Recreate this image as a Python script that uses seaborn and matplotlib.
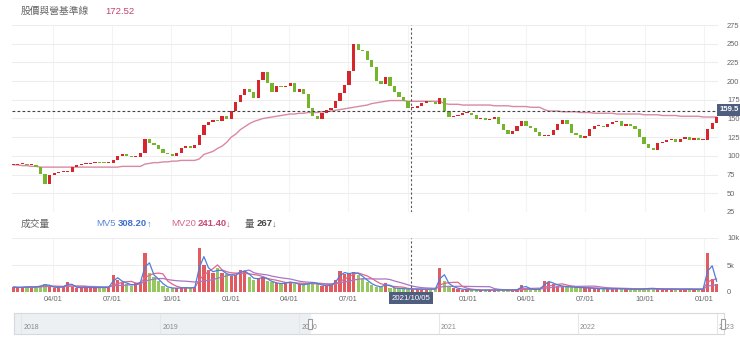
import numpy as np
import pandas as pd
import matplotlib
matplotlib.use("Agg")
import matplotlib.pyplot as plt
import matplotlib.dates as mdates
from matplotlib.patches import Rectangle
import seaborn as sns

# ---------------- data (weekly) ----------------
week_start = "2020-01-31"
first_open = 88
close = [
    88, 89, 89, 88, 88, 85, 76, 63, 74, 77,
    78, 78, 79, 85, 88, 89, 89, 90, 92, 91,
    90, 91, 95, 100, 103, 100, 98, 98, 104, 122,
    117, 114, 109, 104, 102, 100, 104, 110, 113, 111,
    114, 128, 141, 145, 148, 146, 153, 150, 160, 172,
    181, 190, 185, 178, 201, 212, 198, 186, 194, 192,
    194, 198, 186, 190, 183, 164, 154, 150, 157, 162,
    164, 173, 184, 195, 214, 250, 242, 240, 228, 219,
    200, 196, 206, 194, 186, 179, 173, 164, 164, 167,
    171, 173, 172, 169, 178, 160, 152, 153, 155, 157,
    158, 155, 150, 151, 148, 150, 152, 143, 134, 129,
    133, 140, 146, 140, 137, 132, 126, 127, 128, 135,
    142, 148, 143, 131, 128, 124, 127, 136, 140, 140,
    139, 142, 145, 147, 140, 143, 140, 136, 125, 116,
    110, 108, 117, 118, 121, 123, 119, 122, 125, 121,
    124, 121, 121, 136, 144, 152,
]
baseline = [
    88, 88, 87, 87, 86, 86, 85, 85, 85, 85,
    85, 85, 85, 85, 85, 85, 85, 85, 85, 85,
    85, 85, 85, 85, 86, 86, 86, 86, 86, 89,
    90, 91, 91, 92, 92, 93, 93, 94, 94, 94,
    94, 96, 102, 104, 106, 110, 113, 118, 125, 129,
    135, 139, 143, 146, 148, 150, 151, 152, 153, 154,
    155, 156, 156, 157, 157, 158, 158, 158, 159, 159,
    160, 161, 162, 163, 164, 165, 166, 167, 168, 170,
    171, 172, 173, 174, 174, 174, 174, 173, 173, 173,
    173, 173, 173, 173, 173, 170, 169, 169, 169, 168,
    168, 168, 168, 168, 168, 168, 167, 167, 167, 167,
    166, 166, 166, 166, 165, 165, 165, 162, 160, 160,
    160, 159, 159, 159, 159, 158, 158, 158, 157, 157,
    157, 157, 157, 156, 156, 156, 156, 156, 156, 155,
    155, 155, 155, 154, 154, 154, 154, 153, 153, 153,
    153, 153, 152, 152, 152, 152,
]
volume = [
    900, 800, 900, 1000, 900, 1000, 1200, 1500, 1000, 800,
    900, 1000, 1900, 900, 800, 800, 900, 800, 800, 900,
    800, 900, 3100, 2200, 1800, 1500, 1200, 1600, 1900, 7300,
    3500, 2800, 2000, 1100, 800, 700, 700, 800, 800, 700,
    1000, 8100, 5000, 4000, 3500, 4500, 3500, 3300, 3000, 3200,
    4000, 3800, 2800, 2300, 2600, 2800, 2100, 1800, 1600, 1500,
    1800, 1900, 1500, 1400, 1300, 1700, 1800, 1400, 1200, 1100,
    1400, 2200, 3900, 3300, 3500, 3700, 3200, 2600, 1800, 1300,
    1000, 900, 1700, 800, 700, 650, 600, 550, 500, 550,
    500, 550, 500, 550, 4400, 2000, 1200, 800, 600, 450,
    400, 400, 350, 350, 350, 400, 350, 350, 400, 350,
    400, 450, 1300, 700, 500, 450, 600, 2000, 1900, 1400,
    1200, 1000, 950, 900, 850, 800, 750, 700, 650, 600,
    600, 550, 600, 650, 600, 550, 500, 550, 500, 600,
    700, 650, 550, 500, 500, 550, 500, 500, 550, 500,
    500, 500, 550, 7200, 2500, 1400,
]

baseline_title = "股價與營基準線"
baseline_value = "172.52"
cross_date = "2021-10-05"
cross_label = "2021/10/05"
cross_price = 159.5
cross_price_label = "159.5"
quarter_dates = ["2020-04-01", "2020-07-01", "2020-10-01", "2021-01-01",
                 "2021-04-01", "2021-07-01", "2021-10-01", "2022-01-01",
                 "2022-04-01", "2022-07-01", "2022-10-01", "2023-01-01"]
quarter_labels = ["04/01", "07/01", "10/01", "01/01", "04/01", "07/01",
                  "10/01", "01/01", "04/01", "07/01", "10/01", "01/01"]
price_ticks = [25, 50, 75, 100, 125, 150, 175, 200, 225, 250, 275]
vol_ticks = [0, 5000, 10000]
vol_tick_labels = ["0", "5k", "10k"]
nav_years = ["2018", "2019", "2020", "2021", "2022", "2023"]
vol_title = "成交量"
mv5_label, mv5_value, mv5_arrow = "MV5", "308.20", "↑"
mv20_label, mv20_value, mv20_arrow = "MV20", "241.40", "↓"
qty_label, qty_value, qty_arrow = "量", "267", "↓"

# ---------------- styling ----------------
sns.set_theme(style="white")
plt.rcParams["font.family"] = ["Liberation Sans", "Noto Sans CJK TC", "DejaVu Sans"]

RED = "#d7262b"
GREEN = "#74b52c"
PINK = "#d98aa2"
GRID = "#ededed"
TXT = "#666666"
BOX = "#4f5d7f"
TICK_FS = 5.4

W, H = 740, 343
fig = plt.figure(figsize=(W / 100, H / 100), dpi=100)


def box(l, t, r, b):
    return [l / W, 1 - b / H, (r - l) / W, (b - t) / H]


ax = fig.add_axes(box(12, 25, 718, 212))
axv = fig.add_axes(box(12, 238, 718, 292), sharex=ax)
nav = fig.add_axes(box(14, 313, 724, 334))

dates = pd.date_range(week_start, periods=len(close), freq="7D")
c = np.array(close, dtype=float)
o = np.array([first_open] + close[:-1], dtype=float)
up = c >= o
colors = np.where(up, RED, GREEN)
bottom = np.minimum(o, c)
height = np.maximum(np.abs(c - o), 1.3)

# candles
ax.bar(dates, height, bottom=bottom, width=5.0, color=colors, linewidth=0, zorder=3)
# baseline
sns.lineplot(x=dates, y=baseline, ax=ax, color=PINK, linewidth=1.0, zorder=2)

ax.set_xlim(pd.Timestamp("2020-01-29"), pd.Timestamp("2023-01-22"))
ax.set_ylim(25, 275)
ax.set_yticks(price_ticks)
ax.yaxis.tick_right()
ax.tick_params(axis="y", length=0, pad=6.5, labelsize=TICK_FS, labelcolor=TXT)
ax.tick_params(axis="x", length=0, labelbottom=False)
ax.grid(axis="y", color=GRID, linewidth=0.8)
ax.grid(axis="x", color="#f3f3f3", linewidth=0.8)
ax.set_xlabel("")
ax.set_ylabel("")

# crosshair
cd = pd.Timestamp(cross_date)
ax.axvline(cd, color="#555555", linestyle=(0, (2, 2)), linewidth=0.8, zorder=5)
ax.axhline(cross_price, color="#444444", linestyle=(0, (2.5, 2)), linewidth=0.8, zorder=5)

# volume
axv.bar(dates, volume, width=5.0, color=colors, alpha=0.75, linewidth=0, zorder=3)
vs = pd.Series(volume, dtype=float)
sns.lineplot(x=dates, y=vs.rolling(12, min_periods=1).mean().values, ax=axv,
             color="#a777c9", linewidth=0.9, zorder=4)
sns.lineplot(x=dates, y=vs.rolling(5, min_periods=1).mean().values, ax=axv,
             color="#e0668c", linewidth=0.9, zorder=4)
sns.lineplot(x=dates, y=vs.rolling(2, min_periods=1).mean().values, ax=axv,
             color="#4d7fdb", linewidth=0.9, zorder=5)
axv.set_ylim(0, 10000)
axv.set_yticks(vol_ticks)
axv.set_yticklabels(vol_tick_labels)
axv.yaxis.tick_right()
axv.tick_params(axis="y", length=0, pad=6.5, labelsize=TICK_FS, labelcolor=TXT)
axv.set_xticks(pd.to_datetime(quarter_dates))
axv.set_xticklabels(quarter_labels)
axv.tick_params(axis="x", length=0, pad=3, labelsize=TICK_FS, labelcolor=TXT)
axv.grid(axis="y", color=GRID, linewidth=0.8)
axv.grid(axis="x", color="#f3f3f3", linewidth=0.8)
axv.axvline(cd, color="#555555", linestyle=(0, (2, 2)), linewidth=0.8, zorder=6)
axv.set_xlabel("")
axv.set_ylabel("")

for a in (ax, axv):
    for s in a.spines.values():
        s.set_visible(False)

# navigator
nav_start = pd.Timestamp("2017-12-13")
nav_end = pd.Timestamp("2023-01-19")
nav.set_xlim(nav_start, nav_end)
nav.set_ylim(0, 1)
nav.set_xticks([])
nav.set_yticks([])
for s in nav.spines.values():
    s.set_color("#d5dadf")
    s.set_linewidth(0.8)
sel_start, sel_end = ax.get_xlim()
nav.axvspan(mdates.date2num(nav_start), sel_start, color="#edf0f2", zorder=1)
for y in nav_years:
    yd = pd.Timestamp(f"{y}-01-01")
    nav.axvline(yd, color="#e4e6e8", linewidth=0.8, zorder=2)
    nav.text(yd + pd.Timedelta(days=5), 0.3, y, fontsize=5, color="#8a8a8a",
             va="center", ha="left", zorder=3)
for hx in (sel_start, min(sel_end, mdates.date2num(nav_end)) - 3):
    nav.add_patch(Rectangle((hx - 5, 0.25), 10, 0.45, facecolor="white",
                            edgecolor="#9a9a9a", linewidth=0.8, zorder=6,
                            clip_on=False))

# header texts
fig.text(21 / W, 1 - 11 / H, baseline_title, fontsize=7, color="#666666", va="center")
fig.text(105 / W, 1 - 11 / H, baseline_value, fontsize=6.8, color="#c2416f", va="center")

yv = 1 - 224 / H
fig.text(21 / W, yv, vol_title, fontsize=7, color="#666666", va="center")
fig.text(96 / W, yv, mv5_label, fontsize=6.8, color="#5b86d6", va="center")
fig.text(118 / W, yv, mv5_value, fontsize=6.8, color="#3f6fcf", va="center", fontweight="bold")
fig.text(147 / W, yv, mv5_arrow, fontsize=6.8, color="#5b86d6", va="center")
fig.text(171 / W, yv, mv20_label, fontsize=6.8, color="#d6668c", va="center")
fig.text(198 / W, yv, mv20_value, fontsize=6.8, color="#c84a76", va="center", fontweight="bold")
fig.text(226 / W, yv, mv20_arrow, fontsize=6.8, color="#d6668c", va="center")
fig.text(245 / W, yv, qty_label, fontsize=6.8, color="#555555", va="center")
fig.text(257 / W, yv, qty_value, fontsize=6.8, color="#444444", va="center", fontweight="bold")
fig.text(272 / W, yv, qty_arrow, fontsize=6.8, color="#777777", va="center")

# crosshair labels
fig.text(719.5 / W, 1 - 110 / H, cross_price_label, fontsize=5.6, color="white",
         fontweight="bold", va="center", ha="left",
         bbox=dict(boxstyle="square,pad=0.3", fc=BOX, ec="none"), zorder=10)
cx = ax.transData.transform((mdates.date2num(cd), 0))[0] / fig.dpi / fig.get_figwidth()
fig.text(cx, 1 - 298 / H, cross_label, fontsize=5.6, color="white",
         va="center", ha="center",
         bbox=dict(boxstyle="square,pad=0.35", fc=BOX, ec="none"), zorder=10)

fig.savefig("out.png", dpi=100, facecolor="white")
